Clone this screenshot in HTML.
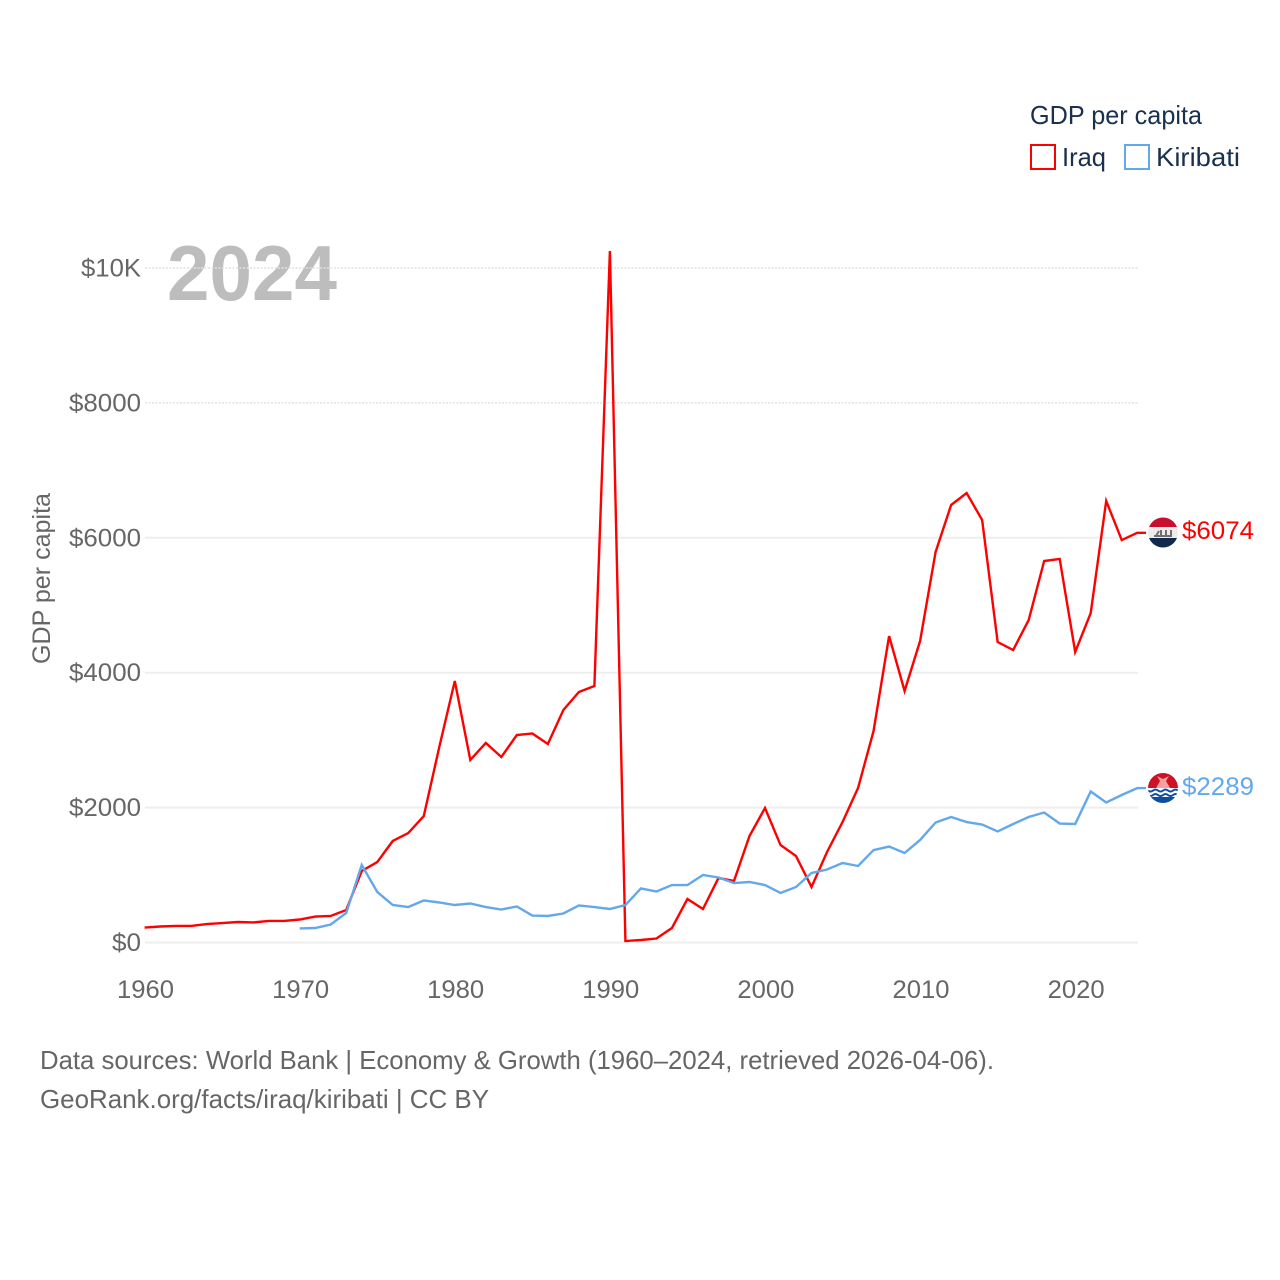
<!DOCTYPE html>
<html lang="en">
<head>
<meta charset="utf-8">
<title>GDP per capita: Iraq and Kiribati</title>
<style>
html,body{margin:0;padding:0;background:#fff;width:1280px;height:1280px;overflow:hidden}
svg{display:block}
text{font-family:"Liberation Sans",sans-serif}
</style>
</head>
<body>
<svg id="chart" xmlns="http://www.w3.org/2000/svg" width="1280" height="1280" viewBox="0 0 1280 1280">
  <rect width="1280" height="1280" fill="#fff"/>
  <text x="167" y="300" font-size="78" font-weight="bold" fill="#bdbdbd" textLength="170" lengthAdjust="spacingAndGlyphs">2024</text>
  <g id="grid"></g>
  <g id="yticks"></g>
  <g id="xticks"></g>
  <text transform="translate(50,664) rotate(-90)" font-size="25" fill="#666" textLength="171" lengthAdjust="spacingAndGlyphs">GDP per capita</text>
  <g id="series"></g>

  <g>
    <clipPath id="iraqClip"><circle cx="1163" cy="532.5" r="15"/></clipPath>
    <g clip-path="url(#iraqClip)">
      <rect x="1148" y="517" width="30" height="10.5" fill="#c8102e"/>
      <rect x="1148" y="527" width="30" height="11" fill="#ececec"/>
      <rect x="1148" y="538" width="30" height="10" fill="#12284c"/>
      <path d="M1154 536h18M1156 536l3-5M1161 536v-6M1166 536v-6M1171 536v-6" stroke="#707070" stroke-width="2" fill="none"/>
    </g>
  </g>
  <g>
    <clipPath id="kiriClip"><circle cx="1163" cy="788" r="15"/></clipPath>
    <g clip-path="url(#kiriClip)">
      <rect x="1148" y="773" width="30" height="16" fill="#ce1126"/>
      <rect x="1148" y="788" width="30" height="16" fill="#fff"/>
      <path d="M1157 776l6 3 6-3-3 5 4 7h-14l4-7z" fill="#f7a0a0"/>
      <path d="M1148 790.500q2.500 2 5 0t5 0 5 0 5 0 5 0 5 0M1148 795q2.500 2 5 0t5 0 5 0 5 0 5 0 5 0" stroke="#0b4ea2" stroke-width="2" fill="none"/>
      <rect x="1148" y="797" width="30" height="7" fill="#0b4ea2"/>
    </g>
  </g>
  <text x="1182" y="539" font-size="25" fill="#ff0000" textLength="72" lengthAdjust="spacingAndGlyphs">$6074</text>
  <text x="1182" y="795" font-size="25" fill="#64a8ec" textLength="72" lengthAdjust="spacingAndGlyphs">$2289</text>

  <g>
    <text x="1030" y="124" font-size="26" fill="#19304f" textLength="172" lengthAdjust="spacingAndGlyphs">GDP per capita</text>
    <g>
      <rect x="1031" y="145" width="24" height="24" fill="none" stroke="#ff0000" stroke-width="2"/>
      <text x="1062" y="166" font-size="26" fill="#19304f" textLength="44" lengthAdjust="spacingAndGlyphs">Iraq</text>
    </g>
    <g>
      <rect x="1125" y="145" width="24" height="24" fill="none" stroke="#64a8ec" stroke-width="2"/>
      <text x="1156" y="166" font-size="26" fill="#19304f" textLength="84" lengthAdjust="spacingAndGlyphs">Kiribati</text>
    </g>
  </g>

  <text x="40" y="1069" font-size="26" fill="#666" textLength="954" lengthAdjust="spacingAndGlyphs">Data sources: World Bank | Economy &amp; Growth (1960–2024, retrieved 2026-04-06).</text>
  <text x="40" y="1108" font-size="26" fill="#666" textLength="449" lengthAdjust="spacingAndGlyphs">GeoRank.org/facts/iraq/kiribati | CC BY</text>
</svg>
<script>
const startYear = 1960;
const yTickValues = [0, 2000, 4000, 6000, 8000, 10000];
const yTickLabels = ["$0", "$2000", "$4000", "$6000", "$8000", "$10K"];
const xTickValues = [1960, 1970, 1980, 1990, 2000, 2010, 2020];
const iraqValues = [222,237,245,245,274,289,304,297,319,319,341,385,393,482,1060,1193,1505,1623,1875,2898,3877,2706,2958,2750,3076,3099,2943,3447,3714,3803,10252,22,37,59,215,645,497,956,912,1579,1994,1445,1282,823,1342,1786,2291,3136,4544,3729,4470,5790,6486,6664,6264,4455,4336,4781,5656,5686,4307,4885,6546,5967,6074];
const kiribatiStartYear = 1970;
const kiribatiValues = [208,215,267,437,1149,749,556,526,623,593,556,578,526,489,534,400,393,430,549,526,497,556,801,756,852,852,1001,964,882,897,852,734,823,1030,1082,1179,1134,1371,1423,1327,1520,1779,1861,1786,1749,1646,1757,1861,1927,1764,1757,2239,2076,2187,2289];

const NS = 'http://www.w3.org/2000/svg';
function xScale(year) { return 144.6 + (year - 1960) * 15.51; }
function yScale(value) { return 942.5 - value * 674.5 / 10000; }

function labelWidth(label) { return label === '$0' ? 29 : (label === '$10K' ? 60 : 72); }

const grid = document.getElementById('grid');
const yticks = document.getElementById('yticks');
yTickValues.forEach(function (v, i) {
  const line = document.createElementNS(NS, 'line');
  
  
  line.setAttribute('x1', 145);
  line.setAttribute('x2', 1138);
  line.setAttribute('y1', yScale(v));
  line.setAttribute('y2', yScale(v));
  if (v >= 8000) {
    line.setAttribute('stroke', '#e2e2e2');
    line.setAttribute('stroke-width', '1.5');
    line.setAttribute('stroke-dasharray', '2 1.5');
  } else {
    line.setAttribute('stroke', '#eeeeee');
    line.setAttribute('stroke-width', '2');
  }
  grid.appendChild(line);

  const t = document.createElementNS(NS, 'text');
  
  
  const w = labelWidth(yTickLabels[i]);
  t.setAttribute('x', 141 - w);
  t.setAttribute('y', yScale(v) + 8.5);
  t.setAttribute('font-size', '25');
  t.setAttribute('fill', '#666');
  t.setAttribute('textLength', w);
  t.setAttribute('lengthAdjust', 'spacingAndGlyphs');
  t.textContent = yTickLabels[i];
  yticks.appendChild(t);
});

const xticks = document.getElementById('xticks');
xTickValues.forEach(function (year) {
  const t = document.createElementNS(NS, 'text');
  
  
  t.setAttribute('x', xScale(year) + 0.9 - 28.5);
  t.setAttribute('y', 998);
  t.setAttribute('font-size', '25');
  t.setAttribute('fill', '#666');
  t.setAttribute('textLength', 57);
  t.setAttribute('lengthAdjust', 'spacingAndGlyphs');
  t.textContent = String(year);
  xticks.appendChild(t);
});

function pathFor(values, firstYear) {
  let d = '';
  values.forEach(function (v, i) {
    d += (i ? 'L' : 'M') + xScale(firstYear + i).toFixed(2) + ' ' + yScale(v).toFixed(2);
  });
  d += 'L1146 ' + yScale(values[values.length - 1]).toFixed(2);
  return d;
}

const series = document.getElementById('series');
const iraqLine = document.createElementNS(NS, 'path');


iraqLine.setAttribute('d', pathFor(iraqValues, startYear));
iraqLine.setAttribute('fill', 'none');
iraqLine.setAttribute('stroke', '#ff0000');
iraqLine.setAttribute('stroke-width', '2.4');
series.appendChild(iraqLine);

const kiribatiLine = document.createElementNS(NS, 'path');


kiribatiLine.setAttribute('d', pathFor(kiribatiValues, kiribatiStartYear));
kiribatiLine.setAttribute('fill', 'none');
kiribatiLine.setAttribute('stroke', '#64a8ec');
kiribatiLine.setAttribute('stroke-width', '2.4');
series.appendChild(kiribatiLine);
</script>
</body>
</html>
